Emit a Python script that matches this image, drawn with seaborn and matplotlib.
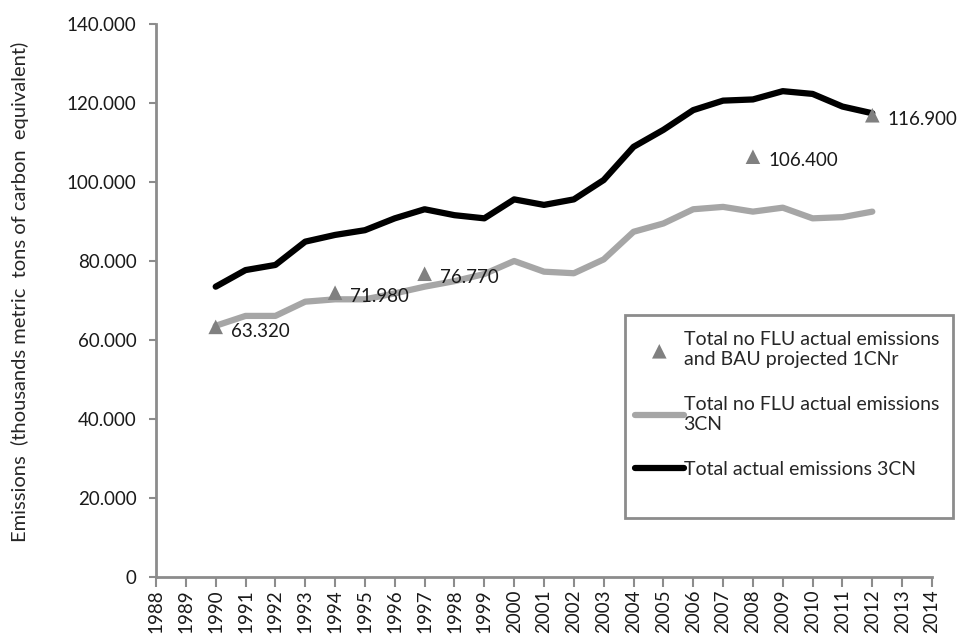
import pandas as pd
import matplotlib
matplotlib.use("Agg")
import matplotlib.pyplot as plt
import seaborn as sns
from matplotlib.patches import Rectangle
from matplotlib.ticker import FuncFormatter, MultipleLocator

# data
years = list(range(1990, 2013))

total_actual_3cn = [73.5, 77.7, 79.0, 84.9, 86.6, 87.8, 90.8, 93.1, 91.6, 90.8,
                    95.6, 94.2, 95.6, 100.5, 108.9, 113.2, 118.2, 120.6, 120.9,
                    123.0, 122.3, 119.1, 117.4]

total_no_flu_3cn = [63.6, 66.1, 66.1, 69.7, 70.3, 70.3, 71.8, 73.5, 74.9, 76.7,
                    80.0, 77.3, 76.9, 80.4, 87.4, 89.5, 93.1, 93.7, 92.5, 93.5,
                    90.8, 91.1, 92.5]

bau_years = [1990, 1994, 1997, 2008, 2012]
bau_values = [63.32, 71.98, 76.77, 106.4, 116.9]
bau_labels = ["63.320", "71.980", "76.770", "106.400", "116.900"]

lbl_marker = "Total no FLU actual emissions\nand BAU projected 1CNr"
lbl_gray = "Total no FLU actual emissions\n3CN"
lbl_black = "Total actual emissions 3CN"

sns.set_style("ticks")
plt.rcParams["font.family"] = ["Lato", "DejaVu Sans"]

lines_df = pd.DataFrame({"year": years, "no_flu": total_no_flu_3cn,
                         "actual": total_actual_3cn})
bau_df = pd.DataFrame({"year": bau_years, "value": bau_values})

W, H = 965, 635
fig = plt.figure(figsize=(W / 100, H / 100), dpi=100)
ax = fig.add_axes([156 / W, 1 - 577 / H, 776 / W, 553 / H])

sns.lineplot(data=lines_df, x="year", y="no_flu", ax=ax, color="#a6a6a6",
             linewidth=4.5, label=lbl_gray)
sns.lineplot(data=lines_df, x="year", y="actual", ax=ax, color="#000000",
             linewidth=4.5, label=lbl_black)
sns.scatterplot(data=bau_df, x="year", y="value", ax=ax, marker="^",
                color="#808080", s=110, edgecolor="none", label=lbl_marker,
                zorder=5)

for x, y, t in zip(bau_years, bau_values, bau_labels):
    ax.annotate(t, (x, y), xytext=(11, -3), textcoords="offset points",
                va="center", ha="left", fontsize=13.5, color="#1a1a1a")

ax.set_xlim(1988, 2014)
ax.set_ylim(0, 140)
ax.xaxis.set_major_locator(MultipleLocator(1))
ax.yaxis.set_major_locator(MultipleLocator(20))
ax.yaxis.set_major_formatter(FuncFormatter(lambda v, p: "0" if v == 0 else f"{v:.3f}"))
plt.setp(ax.get_xticklabels(), rotation=90)

ax.set_xlabel("")
ax.set_ylabel("Emissions  (thousands metric  tons of carbon  equivalent)",
              fontsize=14.5)
ax.yaxis.set_label_coords(-0.164, 0.515)

for s in ["top", "right"]:
    ax.spines[s].set_visible(False)
for s in ["left", "bottom"]:
    ax.spines[s].set_color("#8c8c8c")
    ax.spines[s].set_linewidth(2)
ax.tick_params(axis="both", colors="#8c8c8c", width=1.5,
               labelcolor="#1a1a1a", labelsize=13.5)
ax.tick_params(axis="y", length=5, pad=9)
ax.tick_params(axis="x", length=7, pad=2)

h, l = ax.get_legend_handles_labels()
order = [2, 0, 1]
leg = ax.legend([h[i] for i in order], [l[i] for i in order],
                loc="upper left", bbox_to_anchor=(635 / W, 1 - 331 / H),
                bbox_transform=fig.transFigure, fontsize=14, frameon=False,
                handlelength=2.5, handletextpad=0.0, labelspacing=1.45,
                borderpad=0.0, borderaxespad=0.0)

# legend frame, drawn separately so it can be taller than its entries
fig.patches.append(Rectangle((625 / W, 1 - 518 / H), 328 / W, 203 / H,
                             transform=fig.transFigure, fill=False,
                             edgecolor="#8c8c8c", linewidth=2))

fig.savefig("out.png", dpi=100)
